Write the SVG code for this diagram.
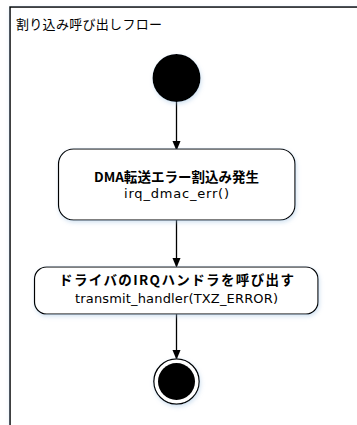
<svg xmlns="http://www.w3.org/2000/svg" width="357" height="425" viewBox="0 0 357 425">
<style>
.frame{fill:#fff;stroke:#000;stroke-width:1.5}
.node{fill:#fff;stroke:#000;stroke-width:1.2}
.t{font-family:"Noto Sans CJK JP","Noto Sans",sans-serif;fill:#000;text-anchor:middle}
.b{font-weight:bold;font-size:13.5px}
.n{font-size:13px;font-family:"DejaVu Sans","Noto Sans CJK JP",sans-serif}
.edge{stroke:#000;stroke-width:1.3;fill:none}
</style>
<defs>
<marker id="ah" markerWidth="10" markerHeight="12" refX="10" refY="5" orient="auto" markerUnits="userSpaceOnUse" viewBox="0 0 12 10">
<path d="M0,0 L12,5 L0,10 Z" fill="#000"/>
</marker>
<filter id="sh" x="-20%" y="-20%" width="140%" height="150%">
<feDropShadow dx="1" dy="2" stdDeviation="2" flood-color="#9cc0e0" flood-opacity="0.45"/>
</filter>
</defs>
<g id="frame">
<rect class="frame" x="10" y="7" width="360" height="430" filter="url(#sh)"/>
<text x="16" y="28.5" textLength="146" style="font-family:'Noto Sans CJK JP',sans-serif;font-size:13px" fill="#000">割り込み呼び出しフロー</text>
</g>
<g id="connectors">
<line class="edge" x1="176.5" y1="102" x2="176.5" y2="149" marker-end="url(#ah)"/>
<line class="edge" x1="176.5" y1="220" x2="176.5" y2="266" marker-end="url(#ah)"/>
<line class="edge" x1="176.5" y1="314" x2="176.5" y2="358" marker-end="url(#ah)"/>
</g>
<g id="start">
<circle cx="176.5" cy="78" r="24" fill="#000" filter="url(#sh)"/>
</g>
<g id="dma">
<rect class="node" x="58.5" y="149" width="236.5" height="71" rx="15" filter="url(#sh)"/>
<text class="t b" x="176.5" y="182" textLength="165">DMA転送エラー割込み発生</text>
<text class="t n" x="176.5" y="198" textLength="105">irq_dmac_err()</text>
</g>
<g id="handler">
<rect class="node" x="34.5" y="267" width="283.5" height="47" rx="12" filter="url(#sh)"/>
<text class="t b" x="176.5" y="285" textLength="235">ドライバのIRQハンドラを呼び出す</text>
<text class="t n" x="176.5" y="303" textLength="203">transmit_handler(TXZ_ERROR)</text>
</g>
<g id="end">
<circle cx="176.5" cy="381.5" r="22.7" fill="#fff" stroke="#000" stroke-width="1.3" filter="url(#sh)"/>
<circle cx="176.5" cy="381.5" r="18.5" fill="#000"/>
</g>
</svg>
